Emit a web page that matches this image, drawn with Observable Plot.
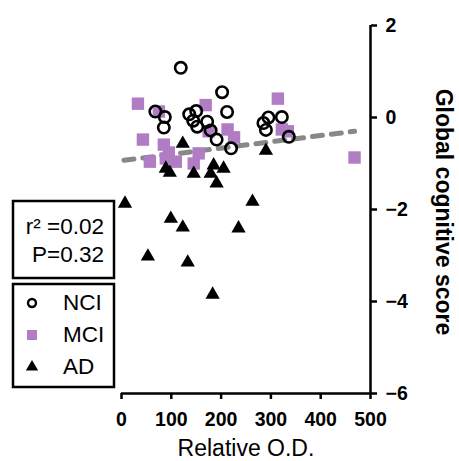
<!DOCTYPE html>
<html>
<head>
<meta charset="utf-8">
<script src="https://cdn.jsdelivr.net/npm/d3@7"></script>
<script src="https://cdn.jsdelivr.net/npm/@observablehq/plot@0.6"></script>
<style>
  html, body { margin: 0; padding: 0; background: #fff; }
  #chart svg { display: block; }
</style>
</head>
<body>
<div id="chart"></div>
<script>
// ---- data ----
const nciX = [119, 68, 87, 85, 136, 150, 144, 152, 172, 179, 202, 212, 191, 220, 285, 295, 322, 290, 336];
const nciY = [1.08, 0.13, 0.01, -0.22, 0.07, 0.14, -0.07, -0.20, -0.09, -0.28, 0.55, 0.12, -0.48, -0.67, -0.12, 0.00, 0.01, -0.27, -0.42];

const mciX = [33, 43, 75, 85, 95, 57, 89, 109, 145, 155, 169, 175, 213, 226, 314, 322, 334, 468];
const mciY = [0.30, -0.48, 0.13, -0.59, -0.76, -0.96, -0.89, -0.96, -1.00, -0.78, 0.27, -0.30, -0.26, -0.43, 0.41, -0.26, -0.30, -0.87];

const adX = [7, 53, 99, 123, 133, 183, 235, 263, 123, 89, 97, 145, 185, 205, 179, 191, 290];
const adY = [-1.87, -3.02, -2.20, -2.39, -3.15, -3.85, -2.41, -1.83, -0.57, -1.11, -1.20, -1.22, -1.04, -1.11, -1.22, -1.43, -0.72];

const fitX = [5, 468];
const fitY = [-0.93, -0.30];

const groups = ["NCI", "MCI", "AD"];
const xTicks = [0, 100, 200, 300, 400, 500];
const yTicks = [-6, -4, -2, 0, 2];
const statsLines = ["r\u00B2 =0.02", "P=0.32"];
const xLabel = "Relative O.D.";
const yLabel = "Global cognitive score";

// ---- build tables ----
const nci = nciX.map((x, i) => ({x, y: nciY[i]}));
const mci = mciX.map((x, i) => ({x, y: mciY[i]}));
const ad = adX.map((x, i) => ({x, y: adY[i]}));
const fit = fitX.map((x, i) => ({x, y: fitY[i]}));

const purple = "#b07cc4";
const font = "'Liberation Sans', Arial, Helvetica, sans-serif";

const chart = Plot.plot({
  width: 459,
  height: 461,
  marginLeft: 121,
  marginRight: 89,
  marginTop: 25,
  marginBottom: 68,
  style: {fontFamily: font, fontSize: "19.5px", fontWeight: "bold", color: "#000", background: "#fff"},
  x: {domain: [0, 500]},
  y: {domain: [-6, 2]},
  marks: [
    Plot.axisX({ticks: xTicks, tickSize: 6, tickPadding: 13, strokeWidth: 2.5, label: null, fontSize: 19.5, fontWeight: "bold"}),
    Plot.axisY({anchor: "right", ticks: yTicks, tickSize: 6, tickPadding: 9, strokeWidth: 2.5, label: null, fontSize: 19.5, fontWeight: "bold"}),
    Plot.ruleY([-6], {stroke: "#000", strokeWidth: 2.5}),
    Plot.ruleX([500], {stroke: "#000", strokeWidth: 2.5}),
    Plot.line(fit, {x: "x", y: "y", stroke: "#888", strokeWidth: 5, strokeDasharray: "10,9", strokeLinecap: "round"}),
    Plot.dot(mci, {x: "x", y: "y", symbol: "square", r: 7, fill: purple, stroke: "none"}),
    Plot.dot(ad, {x: "x", y: "y", symbol: "triangle", r: 5.3, fill: "#000", stroke: "none"}),
    Plot.dot(nci, {x: "x", y: "y", symbol: "circle", r: 5.7, fill: "none", stroke: "#000", strokeWidth: 2.6})
  ]
});

document.getElementById("chart").appendChild(chart);

// ---- annotations (labels, stats box, legend) ----
const svg = d3.select(chart);

svg.append("text")
  .attr("x", 246).attr("y", 456)
  .attr("text-anchor", "middle")
  .style("font-family", font).style("font-size", "23px").style("font-weight", "normal")
  .attr("fill", "#000")
  .text(xLabel);

svg.append("text")
  .attr("transform", "translate(436,212) rotate(90)")
  .attr("text-anchor", "middle")
  .style("font-family", font).style("font-size", "23px").style("font-weight", "bold")
  .attr("fill", "#000")
  .text(yLabel);

// stats box
svg.append("rect")
  .attr("x", 13).attr("y", 201).attr("width", 101).attr("height", 77)
  .attr("fill", "#fff").attr("stroke", "#000").attr("stroke-width", 2.5);
statsLines.forEach((t, i) => {
  svg.append("text")
    .attr("x", 104).attr("y", 234 + i * 28)
    .attr("text-anchor", "end")
    .style("font-family", font).style("font-size", "22.5px").style("font-weight", "normal")
    .attr("fill", "#000")
    .text(t);
});

// legend box
svg.append("rect")
  .attr("x", 13).attr("y", 284).attr("width", 101).attr("height", 103)
  .attr("fill", "#fff").attr("stroke", "#000").attr("stroke-width", 2.5);
const legY = [303, 335, 367];
const sym = [d3.symbolCircle, d3.symbolSquare, d3.symbolTriangle];
groups.forEach((g, i) => {
  const p = svg.append("path")
    .attr("transform", `translate(32,${legY[i]})`)
    .attr("d", d3.symbol(sym[i], i === 0 ? 50 : i === 1 ? 100 : 65)());
  if (i === 0) p.attr("fill", "none").attr("stroke", "#000").attr("stroke-width", 2.4);
  else if (i === 1) p.attr("fill", purple);
  else p.attr("fill", "#000");
  svg.append("text")
    .attr("x", 63).attr("y", legY[i] + 7)
    .attr("text-anchor", "start")
    .style("font-family", font).style("font-size", "22.5px").style("font-weight", "normal")
    .attr("fill", "#000")
    .text(g);
});
</script>
</body>
</html>
